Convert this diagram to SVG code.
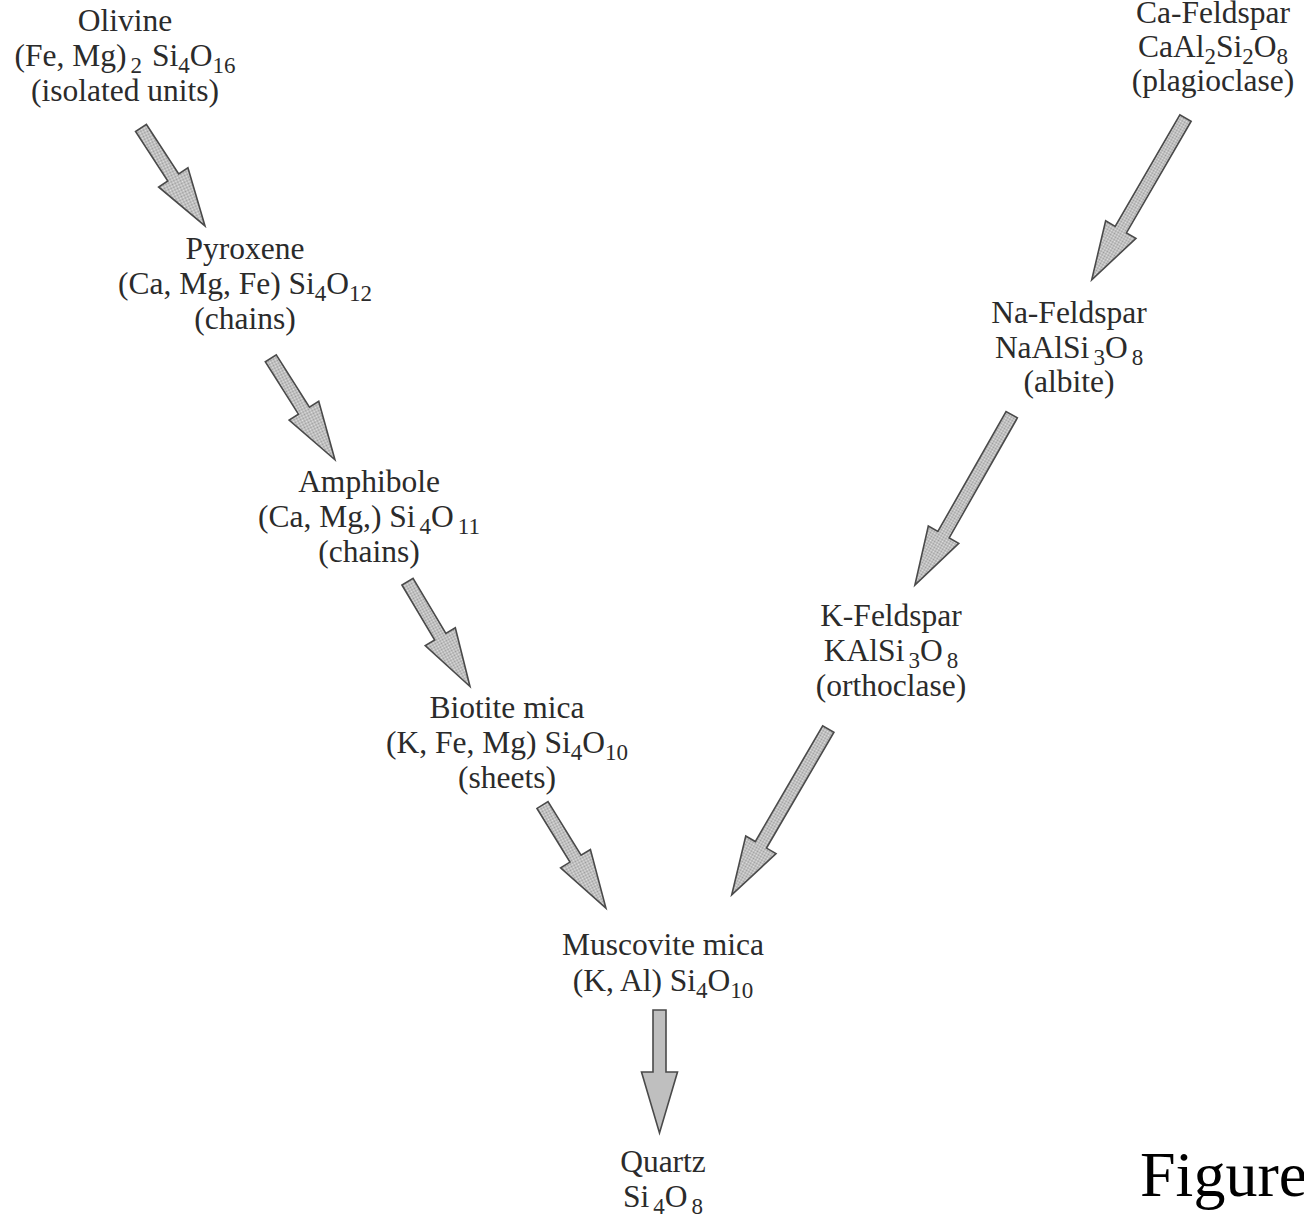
<svg xmlns="http://www.w3.org/2000/svg" width="1304" height="1217" viewBox="0 0 1304 1217">
  <defs>
    <!-- stippled grey fill used inside the block arrows -->
    <pattern id="stipple" width="2" height="2" patternUnits="userSpaceOnUse">
      <rect width="2" height="2" fill="#e4e4e4"/>
      <rect x="0" y="0" width="1" height="1" fill="#9a9a9a"/>
      <rect x="1" y="1" width="1" height="1" fill="#9a9a9a"/>
    </pattern>
    <style>
      text { font-family: "Liberation Serif", "Times New Roman", serif; font-size: 31.5px; fill: #2b2b2b; text-anchor: middle; }
      .sub { font-size: 23px; }
      .arrow { fill: url(#stipple); stroke: #4a4a4a; stroke-width: 1.6; stroke-linejoin: miter; }
      .caption { font-size: 64px; fill: #000; text-anchor: start; }
    </style>
  </defs>
  <rect width="1304" height="1217" fill="#ffffff"/>

  <!-- discontinuous series (left branch) -->
  <g id="olivine">
    <text x="125" y="31">Olivine</text>
    <text x="125" y="66">(Fe, Mg)<tspan class="sub" dx="4" dy="7">2</tspan><tspan dx="2" dy="-7"> Si</tspan><tspan class="sub" dy="7">4</tspan><tspan dy="-7">O</tspan><tspan class="sub" dy="7">16</tspan></text>
    <text x="125" y="101">(isolated units)</text>
  </g>
  <g id="pyroxene">
    <text x="245" y="259">Pyroxene</text>
    <text x="245" y="294">(Ca, Mg, Fe) Si<tspan class="sub" dy="7">4</tspan><tspan dy="-7">O</tspan><tspan class="sub" dy="7">12</tspan></text>
    <text x="245" y="329">(chains)</text>
  </g>
  <g id="amphibole">
    <text x="369" y="492">Amphibole</text>
    <text x="369" y="527">(Ca, Mg,) Si<tspan class="sub" dx="4" dy="7">4</tspan><tspan dy="-7">O</tspan><tspan class="sub" dx="4" dy="7">11</tspan></text>
    <text x="369" y="562">(chains)</text>
  </g>
  <g id="biotite">
    <text x="507" y="718">Biotite mica</text>
    <text x="507" y="753">(K, Fe, Mg) Si<tspan class="sub" dy="7">4</tspan><tspan dy="-7">O</tspan><tspan class="sub" dy="7">10</tspan></text>
    <text x="507" y="788">(sheets)</text>
  </g>

  <!-- continuous series (right branch) -->
  <g id="ca-feldspar">
    <text x="1213" y="23">Ca-Feldspar</text>
    <text x="1213" y="57">CaAl<tspan class="sub" dy="7">2</tspan><tspan dy="-7">Si</tspan><tspan class="sub" dy="7">2</tspan><tspan dy="-7">O</tspan><tspan class="sub" dy="7">8</tspan></text>
    <text x="1213" y="91">(plagioclase)</text>
  </g>
  <g id="na-feldspar">
    <text x="1069" y="323">Na-Feldspar</text>
    <text x="1069" y="358">NaAlSi<tspan class="sub" dx="4" dy="7">3</tspan><tspan dy="-7">O</tspan><tspan class="sub" dx="4" dy="7">8</tspan></text>
    <text x="1069" y="392">(albite)</text>
  </g>
  <g id="k-feldspar">
    <text x="891" y="626">K-Feldspar</text>
    <text x="891" y="661">KAlSi<tspan class="sub" dx="4" dy="7">3</tspan><tspan dy="-7">O</tspan><tspan class="sub" dx="4" dy="7">8</tspan></text>
    <text x="891" y="696">(orthoclase)</text>
  </g>

  <!-- shared lower end -->
  <g id="muscovite">
    <text x="663" y="955">Muscovite mica</text>
    <text x="663" y="991">(K, Al) Si<tspan class="sub" dy="7">4</tspan><tspan dy="-7">O</tspan><tspan class="sub" dy="7">10</tspan></text>
  </g>
  <g id="quartz">
    <text x="663" y="1172">Quartz</text>
    <text x="663" y="1207">Si<tspan class="sub" dx="4" dy="7">4</tspan><tspan dy="-7">O</tspan><tspan class="sub" dx="4" dy="7">8</tspan></text>
  </g>

  <!-- block arrows: local +x axis runs from tail to tip -->
  <g id="connectors">
    <path class="arrow" transform="translate(141,128) rotate(56.85)" d="M0,-6.5 H59 V-17.5 L117,0 L59,17.5 V6.5 H0 Z"/>
    <path class="arrow" transform="translate(270.8,358.3) rotate(57.7)" d="M0,-6.5 H62 V-17.5 L120,0 L62,17.5 V6.5 H0 Z"/>
    <path class="arrow" transform="translate(407.5,581.7) rotate(59.2)" d="M0,-6.5 H64 V-17.5 L122,0 L64,17.5 V6.5 H0 Z"/>
    <path class="arrow" transform="translate(542.5,805) rotate(58.4)" d="M0,-6.5 H63 V-17.5 L121,0 L63,17.5 V6.5 H0 Z"/>
    <path class="arrow" transform="translate(1185.5,118) rotate(120.1)" d="M0,-6.5 H129 V-17.5 L187,0 L129,17.5 V6.5 H0 Z"/>
    <path class="arrow" transform="translate(1011.7,414.7) rotate(119.6)" d="M0,-6.5 H138 V-17.5 L196,0 L138,17.5 V6.5 H0 Z"/>
    <path class="arrow" transform="translate(828.3,729) rotate(120.2)" d="M0,-6.5 H134 V-17.5 L192,0 L134,17.5 V6.5 H0 Z"/>
    <path class="arrow" transform="translate(659.5,1010) rotate(90)" d="M0,-6.5 H62 V-18 L123,0 L62,18 V6.5 H0 Z"/>
  </g>

  <text class="caption" x="1140" y="1196">Figure</text>
</svg>
